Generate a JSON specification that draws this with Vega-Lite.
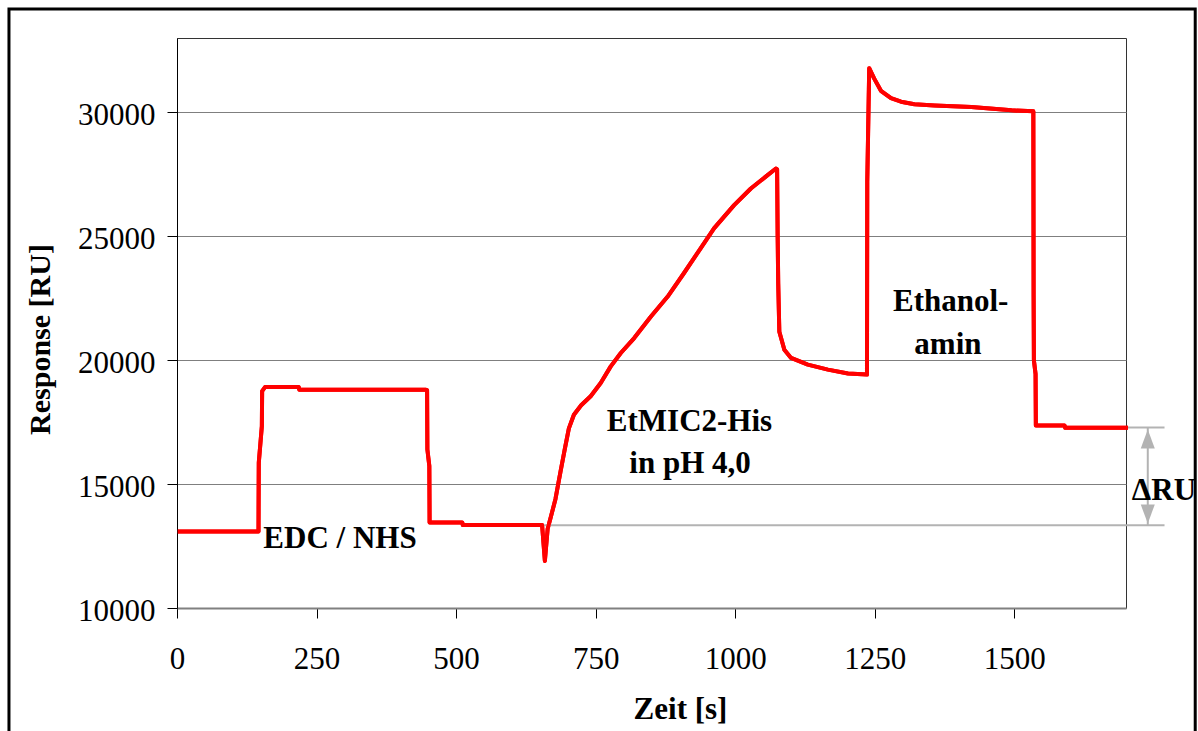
{
  "$schema": "https://vega.github.io/schema/vega-lite/v6.json",
  "width": 949,
  "height": 570,
  "autosize": {"type": "none"},
  "padding": {"left": 177, "top": 38, "right": 72, "bottom": 123},
  "background": "white",
  "config": {
    "view": {"stroke": "#333333", "strokeWidth": 1},
    "font": "Liberation Serif",
    "axis": {"labelColor": "black", "titleColor": "black", "labelFont": "Liberation Serif", "titleFont": "Liberation Serif"}
  },
  "datasets": {
    "trace": [
      {"t": 5, "v": 13090}, {"t": 146, "v": 13090}, {"t": 146.5, "v": 15860}, {"t": 152, "v": 17340},
      {"t": 152.5, "v": 18750}, {"t": 158, "v": 18920}, {"t": 218, "v": 18920}, {"t": 219, "v": 18810},
      {"t": 445, "v": 18810}, {"t": 448, "v": 18790}, {"t": 448.5, "v": 16400}, {"t": 452, "v": 15730},
      {"t": 452.5, "v": 13450}, {"t": 511, "v": 13450}, {"t": 512, "v": 13350}, {"t": 654, "v": 13350},
      {"t": 659, "v": 11900}, {"t": 664, "v": 13200}, {"t": 670, "v": 13700}, {"t": 678, "v": 14400},
      {"t": 687, "v": 15500}, {"t": 695, "v": 16450}, {"t": 702, "v": 17250}, {"t": 711, "v": 17800},
      {"t": 724, "v": 18180}, {"t": 741, "v": 18543}, {"t": 759, "v": 19080}, {"t": 777, "v": 19750},
      {"t": 795, "v": 20290}, {"t": 819, "v": 20893}, {"t": 849, "v": 21763}, {"t": 879, "v": 22568},
      {"t": 908, "v": 23507}, {"t": 938, "v": 24514}, {"t": 962, "v": 25318}, {"t": 998, "v": 26258},
      {"t": 1028, "v": 26928}, {"t": 1058, "v": 27465}, {"t": 1073, "v": 27733}, {"t": 1075, "v": 27700},
      {"t": 1076, "v": 25000}, {"t": 1077, "v": 23100}, {"t": 1079, "v": 21150}, {"t": 1088, "v": 20420},
      {"t": 1100, "v": 20090}, {"t": 1130, "v": 19820}, {"t": 1166, "v": 19620}, {"t": 1202, "v": 19460},
      {"t": 1236, "v": 19420}, {"t": 1236.5, "v": 27200}, {"t": 1238, "v": 29140}, {"t": 1240, "v": 31780},
      {"t": 1249, "v": 31360}, {"t": 1261, "v": 30870}, {"t": 1279, "v": 30570}, {"t": 1297, "v": 30430},
      {"t": 1321, "v": 30330}, {"t": 1357, "v": 30280}, {"t": 1423, "v": 30220}, {"t": 1495, "v": 30080},
      {"t": 1534, "v": 30040}, {"t": 1534.5, "v": 22640}, {"t": 1535, "v": 20000}, {"t": 1538, "v": 19440},
      {"t": 1538.5, "v": 17360}, {"t": 1590, "v": 17360}, {"t": 1591, "v": 17270}, {"t": 1700, "v": 17270}
    ],
    "guides": [
      {"t": 656, "t2": 1769, "v": 13340, "v2": 13340},
      {"t": 1700, "t2": 1769, "v": 17284, "v2": 17284},
      {"t": 1739, "t2": 1739, "v": 17284, "v2": 13340}
    ],
    "heads": [
      {"t": 1739, "v": 16820, "dir": "up"},
      {"t": 1739, "v": 13793, "dir": "down"}
    ],
    "labels": [
      {"t": 292, "v": 12409, "text": "EDC / NHS"},
      {"t": 918, "v": 17143, "text": "EtMIC2-His"},
      {"t": 919, "v": 15436, "text": "in pH 4,0"},
      {"t": 1386, "v": 22002, "text": "Ethanol-"},
      {"t": 1381, "v": 20262, "text": "amin"},
      {"t": 1768, "v": 14358, "text": "ΔRU"}
    ]
  },
  "layer": [
    {
      "data": {"name": "trace"},
      "mark": {"type": "line", "color": "#ff0000", "strokeWidth": 4, "strokeJoin": "round", "strokeCap": "square"},
      "encoding": {
        "x": {
          "field": "t", "type": "quantitative",
          "scale": {"domain": [0, 1700], "nice": false, "zero": false},
          "axis": {
            "title": "Zeit [s]", "values": [0, 250, 500, 750, 1000, 1250, 1500], "format": "d", "grid": false,
            "domainColor": "#808080", "domainWidth": 2, "tickColor": "black", "tickSize": 10, "tickWidth": 1,
            "labelFontSize": 31, "labelPadding": 26, "labelFlush": false, "labelOverlap": false,
            "titleFontSize": 31, "titleFontWeight": "bold", "titleX": 503, "titleY": 110, "titleBaseline": "alphabetic"
          }
        },
        "y": {
          "field": "v", "type": "quantitative",
          "scale": {"domain": [10000, 33000], "nice": false, "zero": false},
          "axis": {
            "title": "Response [RU]", "values": [10000, 15000, 20000, 25000, 30000], "format": "d", "grid": true,
            "gridColor": "#7f7f7f", "gridWidth": 1, "domainColor": "black", "domainWidth": 1,
            "tickColor": "black", "tickSize": 10, "tickWidth": 1,
            "labelFontSize": 31, "labelPadding": 12, "labelOffset": 3, "labelOverlap": false,
            "titleFontSize": 30, "titleFontWeight": "bold", "titleAngle": 270,
            "titleX": -128, "titleY": 301, "titleBaseline": "alphabetic"
          }
        }
      }
    },
    {
      "data": {"values": [{}]},
      "mark": {"type": "rect", "filled": false, "stroke": "black", "strokeWidth": 3, "clip": false},
      "encoding": {
        "x": {"datum": -301},
        "x2": {"datum": 1824},
        "y": {"datum": 34173},
        "y2": {"datum": 4471}
      }
    },
    {
      "data": {"name": "guides"},
      "mark": {"type": "rule", "color": "#b3b3b3", "strokeWidth": 2, "clip": false},
      "encoding": {
        "x": {"field": "t", "type": "quantitative"},
        "x2": {"field": "t2"},
        "y": {"field": "v", "type": "quantitative"},
        "y2": {"field": "v2"}
      }
    },
    {
      "data": {"name": "heads"},
      "transform": [{"filter": "datum.dir === 'up'"}],
      "mark": {"type": "point", "shape": "M0,-1L0.74,1L-0.74,1Z", "size": 361, "filled": true, "color": "#b3b3b3", "opacity": 1, "clip": false},
      "encoding": {
        "x": {"field": "t", "type": "quantitative"},
        "y": {"field": "v", "type": "quantitative"}
      }
    },
    {
      "data": {"name": "heads"},
      "transform": [{"filter": "datum.dir === 'down'"}],
      "mark": {"type": "point", "shape": "M0,1L0.74,-1L-0.74,-1Z", "size": 361, "filled": true, "color": "#b3b3b3", "opacity": 1, "clip": false},
      "encoding": {
        "x": {"field": "t", "type": "quantitative"},
        "y": {"field": "v", "type": "quantitative"}
      }
    },
    {
      "data": {"name": "trace"},
      "mark": {"type": "line", "color": "#ff0000", "strokeWidth": 4, "strokeJoin": "round", "strokeCap": "square"},
      "encoding": {
        "x": {"field": "t", "type": "quantitative"},
        "y": {"field": "v", "type": "quantitative"}
      }
    },
    {
      "data": {"name": "labels"},
      "mark": {"type": "text", "font": "Liberation Serif", "fontSize": 31, "fontWeight": "bold", "color": "black", "align": "center", "baseline": "alphabetic", "clip": false},
      "encoding": {
        "x": {"field": "t", "type": "quantitative"},
        "y": {"field": "v", "type": "quantitative"},
        "text": {"field": "text"}
      }
    }
  ]
}
